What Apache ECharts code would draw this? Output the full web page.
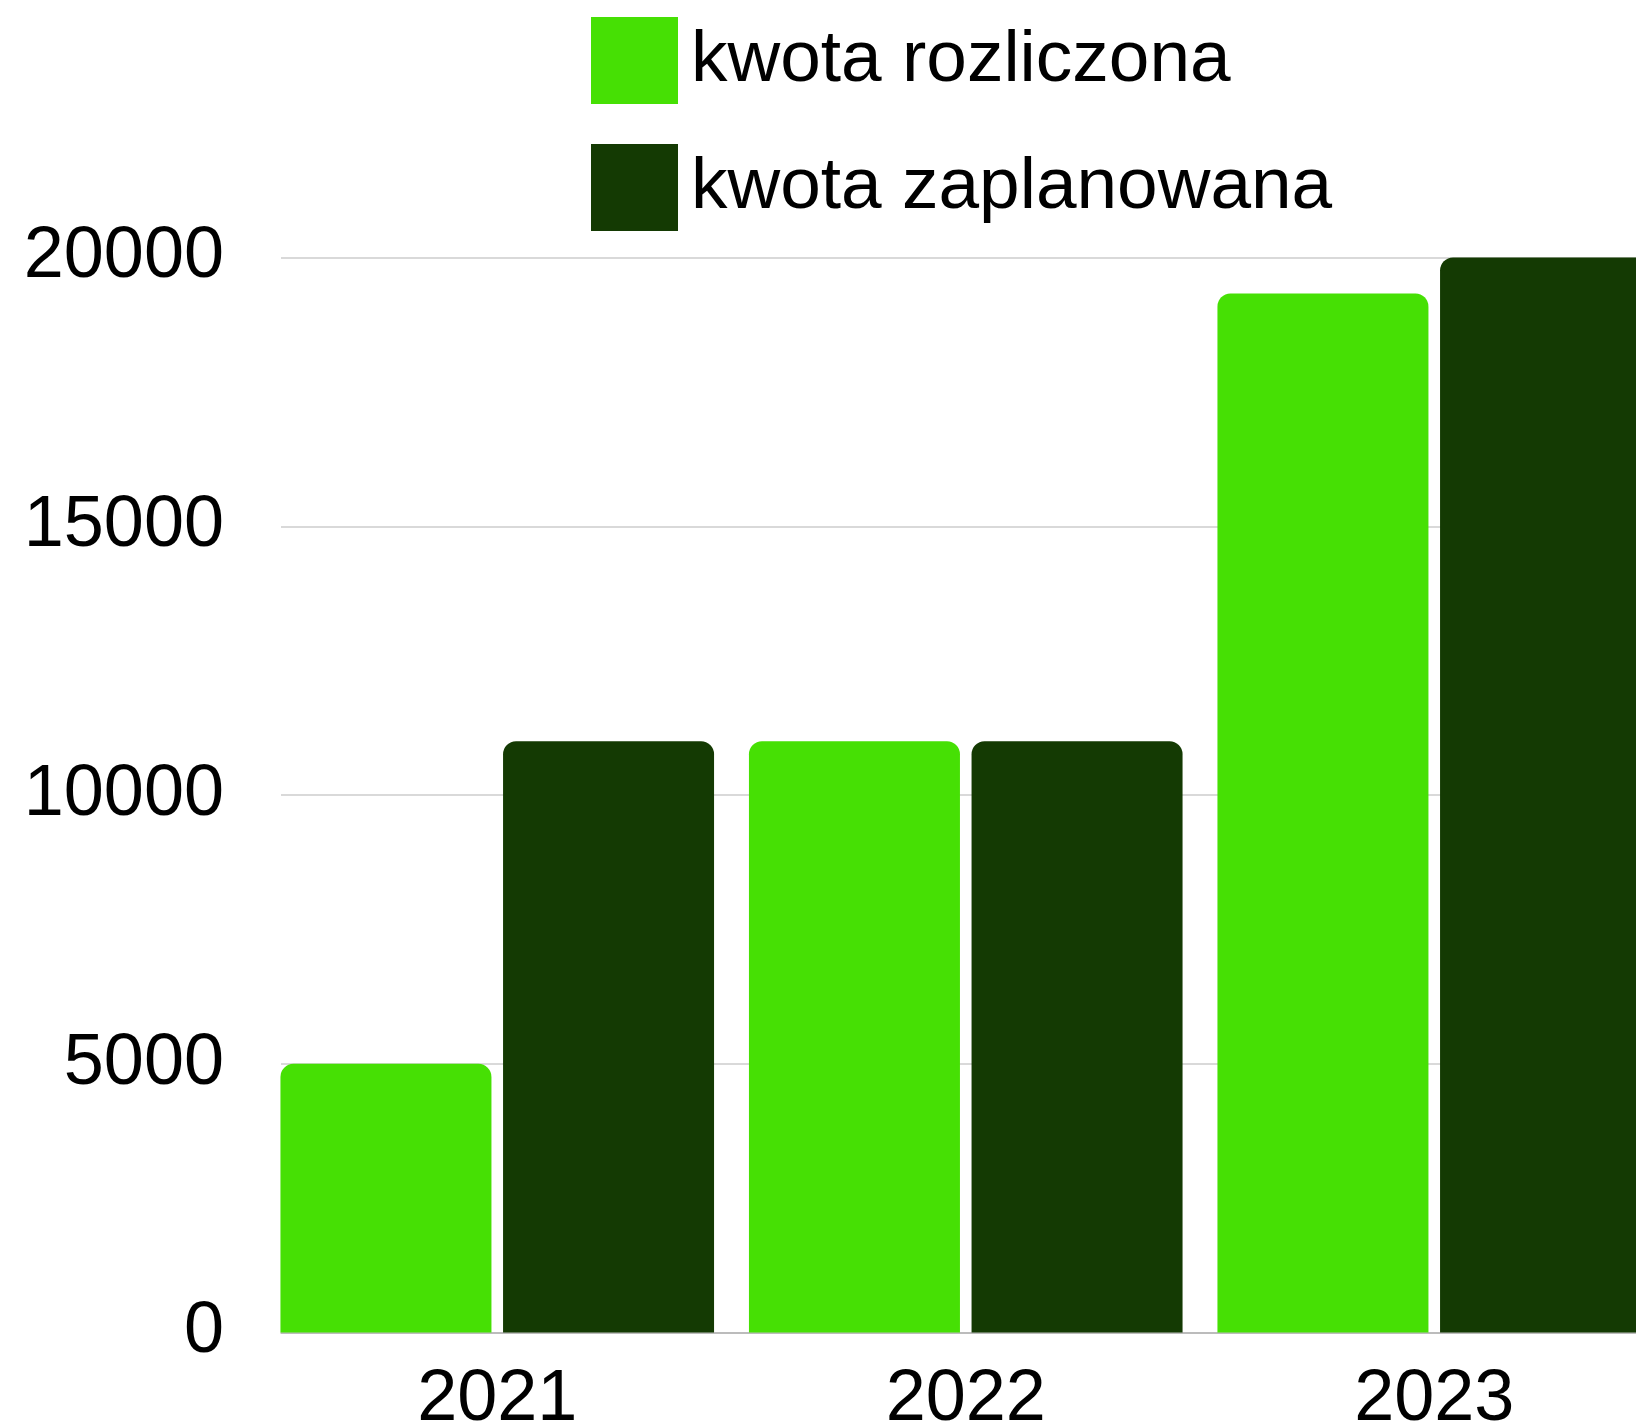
<!DOCTYPE html>
<html>
<head>
<meta charset="utf-8">
<script src="https://cdn.jsdelivr.net/npm/echarts@6/dist/echarts.min.js"></script>
<style>
html,body{margin:0;padding:0;background:#fff;}
#chart{width:1636px;height:1427px;}
</style>
</head>
<body>
<div id="chart"></div>
<script>
const categories = ['2021', '2022', '2023'];
const seriesNames = ['kwota rozliczona', 'kwota zaplanowana'];
const settled = [5000, 11000, 19330];
const planned = [11000, 11000, 20000];
const yTicks = [0, 5000, 10000, 15000, 20000];

const FONT = 'Liberation Sans, Arial, sans-serif';
const chart = echarts.init(document.getElementById('chart'), null, {renderer: 'canvas'});
const yMin = yTicks[0], yMax = yTicks[yTicks.length - 1], yStep = yTicks[1] - yTicks[0];

chart.setOption({
  backgroundColor: '#ffffff',
  animation: false,
  legend: {
    orient: 'vertical',
    left: 586,
    top: 12,
    itemWidth: 87,
    itemHeight: 87,
    itemGap: 40,
    icon: 'rect',
    data: seriesNames,
    textStyle: {fontFamily: FONT, fontSize: 73, color: '#000', lineHeight: 87, padding: [0, 0, 0, 8]}
  },
  grid: [
    {left: 281, width: 1400, top: 257.5, bottom: 94.4, outerBoundsMode: 'none', containLabel: false},
    {left: 263, width: 1405.5, top: 257.5, bottom: 94.4, outerBoundsMode: 'none', containLabel: false}
  ],
  xAxis: [
    {type: 'category', gridIndex: 0, data: categories,
     axisLine: {show: true, lineStyle: {color: '#b3b3b3', width: 1.5}},
     axisTick: {show: false}, axisLabel: {show: false}, splitLine: {show: false}},
    {type: 'category', gridIndex: 1, data: categories,
     axisLine: {show: false}, axisTick: {show: false},
     axisLabel: {fontFamily: FONT, fontSize: 72, color: '#000', margin: 32}}
  ],
  yAxis: [
    {type: 'value', gridIndex: 0, min: yMin, max: yMax, interval: yStep,
     axisLine: {show: false}, axisTick: {show: false},
     axisLabel: {fontFamily: FONT, fontSize: 72, color: '#000', margin: 57,
                 padding: [6, 0, 0, 0], formatter: v => String(v)},
     splitLine: {show: true, lineStyle: {color: '#cccccc', width: 1.5}}},
    {type: 'value', gridIndex: 1, min: yMin, max: yMax, interval: yStep, show: false,
     splitLine: {show: false}}
  ],
  series: [
    {name: seriesNames[0], type: 'bar', xAxisIndex: 1, yAxisIndex: 1, data: settled,
     barWidth: 211, barGap: '5.5%',
     itemStyle: {color: '#46e004', borderRadius: [13, 13, 0, 0]}},
    {name: seriesNames[1], type: 'bar', xAxisIndex: 1, yAxisIndex: 1, data: planned,
     barWidth: 211, barGap: '5.5%',
     itemStyle: {color: '#143a03', borderRadius: [13, 13, 0, 0]}}
  ]
});
</script>
</body>
</html>
